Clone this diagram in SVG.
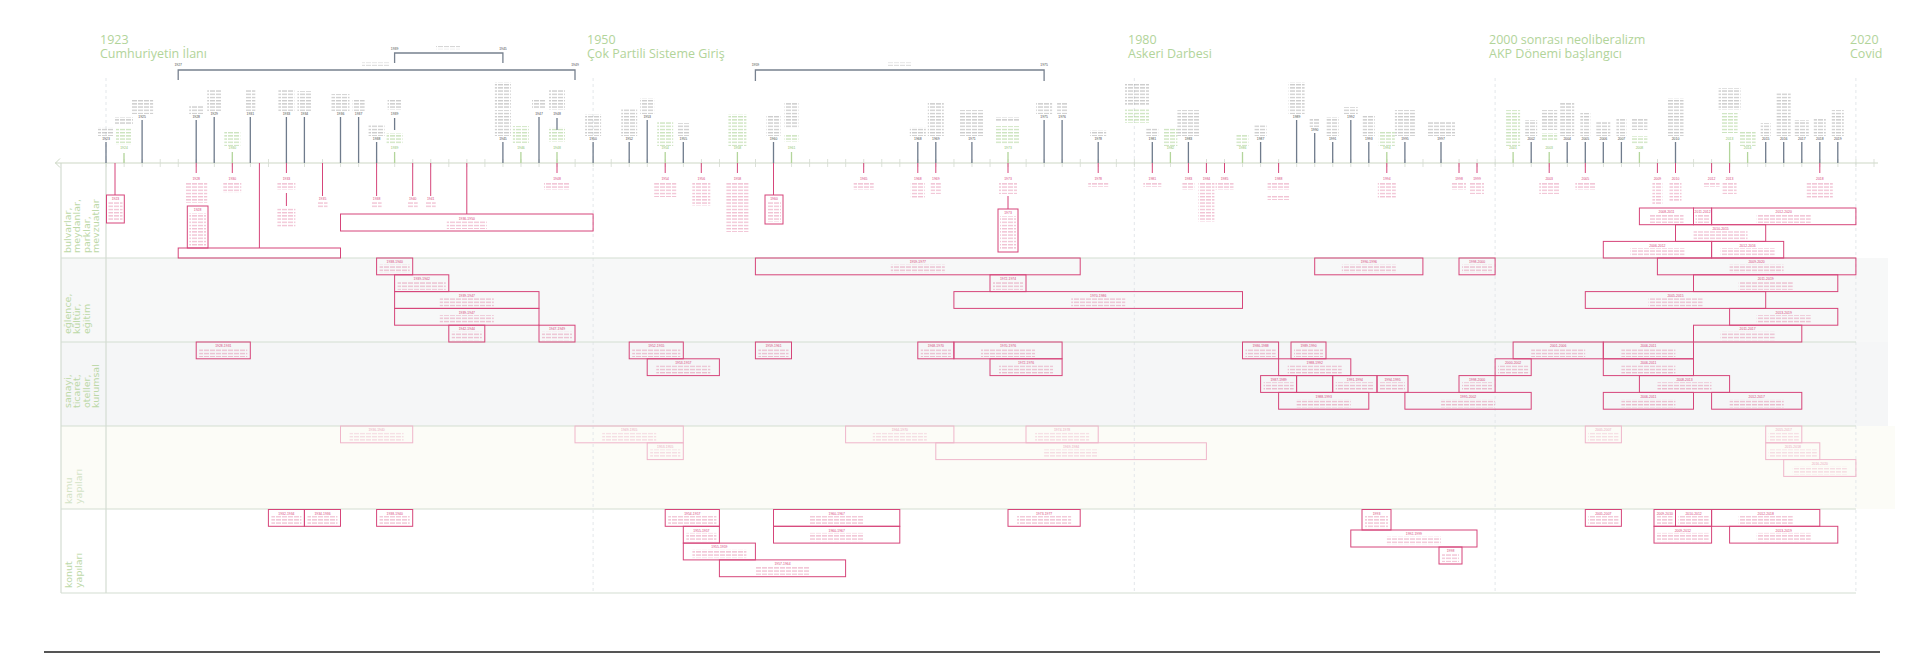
<svg xmlns="http://www.w3.org/2000/svg" width="1920" height="654" viewBox="0 0 1920 654">
<style>
.era{font-family:"Open Sans","DejaVu Sans",sans-serif;font-size:12.5px;fill:#b2d49a}
.rl{font-family:"DejaVu Sans",sans-serif;font-size:9.5px;fill:#bcd8a7}
.rl4{font-family:"DejaVu Sans",sans-serif;font-size:9.5px;fill:#d3e3c6}
.td,.tg,.tp,.tf{font-family:"Liberation Sans",Arial,sans-serif;font-size:3.4px;text-anchor:middle}
.td{fill:#4a4a4a}.tg{fill:#8cbf6c}.tp{fill:#d6457a}.tf{fill:#eaa6be}
.gd{fill:url(#pd)}.gg{fill:url(#pg)}.gp{fill:url(#pp)}.gf{fill:url(#pf)}
.bx{fill:none;stroke:#d6457a;stroke-width:1}
.bxf{fill:none;stroke:#efb6ca;stroke-width:1}
.ld{stroke:#6f7b8c;stroke-width:1.3;fill:none}
.lg{stroke:#b3d59b;stroke-width:1.3;fill:none}
.lp{stroke:#d6457a;stroke-width:1;fill:none}
.br{stroke:#77818f;stroke-width:1.3;fill:none}
.sep{stroke:#d4ddd2;stroke-width:1.2;fill:none}
.era-l{stroke:#e3e7ea;stroke-width:1;stroke-dasharray:3 3;fill:none}
</style>
<defs>
<pattern id="pd" width="6" height="3.2" patternUnits="userSpaceOnUse"><rect y="1" width="5" height="1" fill="#4a4a4a" fill-opacity=".38"/></pattern>
<pattern id="pg" width="6" height="3.2" patternUnits="userSpaceOnUse"><rect y="1" width="5" height="1" fill="#8cbf6c" fill-opacity=".6"/></pattern>
<pattern id="pp" width="6" height="3.2" patternUnits="userSpaceOnUse"><rect y="1" width="5" height="1" fill="#d6457a" fill-opacity=".45"/></pattern>
<pattern id="pf" width="6" height="3.2" patternUnits="userSpaceOnUse"><rect y="1" width="5" height="1" fill="#eaa6be" fill-opacity=".5"/></pattern>
<pattern id="tk" x="105.6" y="0" width="18.04" height="10" patternUnits="userSpaceOnUse"><rect width="0.8" height="10" fill="#d3dad0"/></pattern>
</defs>
<rect width="1920" height="654" fill="#ffffff"/>

<g id="bands">
<rect x="61" y="258" width="1827" height="84" fill="#f7f8f8"/>
<rect x="61" y="342" width="1827" height="84" fill="#f5f6f7"/>
<rect x="61" y="426" width="1834" height="83" fill="#fcfcf7"/>
<path class="era-l" d="M106 78V163M593.1 78V593M1134.3 78V593M1495.1 78V593M1855.9 78V593"/>
<path class="sep" d="M61 258H1856M61 342H1856M61 426H1856M61 509H1856M61 593H1856M61 163V593M106 163V593"/>
<path d="M55 163H1878" stroke="#cdd8c6" stroke-width="1.2"/>
<path d="M60 158.5L55.5 163L60 167.5" stroke="#cdd8c6" stroke-width="1" fill="none"/>
<rect x="105.6" y="159" width="1770" height="8" fill="url(#tk)"/>
<path d="M44 652H1880" stroke="#555555" stroke-width="2"/>
</g>

<g id="eras" class="era">
<text x="100" y="44">1923</text><text x="100" y="58">Cumhuriyetin İlanı</text>
<text x="587" y="44">1950</text><text x="587" y="58">Çok Partili Sisteme Giriş</text>
<text x="1128" y="44">1980</text><text x="1128" y="58">Askeri Darbesi</text>
<text x="1489" y="44">2000 sonrası neoliberalizm</text><text x="1489" y="58">AKP Dönemi başlangıcı</text>
<text x="1850" y="44">2020</text><text x="1850" y="58">Covid</text>
</g>

<g id="row-labels">
<g id="lbl-bulvarlar" class="rl"><text transform="translate(70.5 253) rotate(-90)">bulvarlar,</text><text transform="translate(80 253) rotate(-90)">meydanlar,</text><text transform="translate(89.5 253) rotate(-90)">parklar,</text><text transform="translate(99 253) rotate(-90)">mevzuatlar</text></g>
<g id="lbl-eglence" class="rl"><text transform="translate(70.5 334) rotate(-90)">eğlence,</text><text transform="translate(80 334) rotate(-90)">kültür,</text><text transform="translate(89.5 334) rotate(-90)">eğitim</text></g>
<g id="lbl-sanayi" class="rl"><text transform="translate(70.5 408) rotate(-90)">sanayi,</text><text transform="translate(80 408) rotate(-90)">ticaret,</text><text transform="translate(89.5 408) rotate(-90)">oteller,</text><text transform="translate(99 408) rotate(-90)">kurumsal</text></g>
<g id="lbl-kamu" class="rl4"><text transform="translate(72 504) rotate(-90)">kamu</text><text transform="translate(81.5 504) rotate(-90)">yapıları</text></g>
<g id="lbl-konut" class="rl"><text transform="translate(72 588) rotate(-90)">konut</text><text transform="translate(81.5 588) rotate(-90)">yapıları</text></g>
</g>

<g id="brackets">
<g id="br1"><path class="br" d="M178.2 80V70H575V80"/><text class="td" x="178.2" y="66">1927</text><text class="td" x="575" y="66">1949</text><rect class="gd" x="362" y="62.5" width="28" height="3.2"/></g>
<g id="br2"><path class="br" d="M394.6 63V53H502.9V63"/><text class="td" x="394.6" y="49.5">1939</text><text class="td" x="502.9" y="49.5">1945</text><rect class="gd" x="436" y="46" width="24" height="3.2"/></g>
<g id="br3"><path class="br" d="M755.4 81V70H1044.1V81"/><text class="td" x="755.4" y="66">1959</text><text class="td" x="1044.1" y="66">1975</text><rect class="gd" x="888" y="62.5" width="24" height="3.2"/></g>
</g>

<g id="connectors">
<path class="ld" d="M106 163V142M142.1 163V120M196.2 163V120M214.2 163V117M250.3 163V117M286.4 163V117M304.4 163V117M340.5 163V117M358.6 163V117M376.6 163V142M394.6 130V118M502.9 163V142M539 163V117M557 130V118M593.1 163V142M629.2 163V142M647.2 163V120M683.3 163V142M773.5 163V142M917.8 163V142M935.8 163V142M971.9 163V142M1044.1 163V120M1062.1 163V120M1098.2 163V142M1152.3 163V142M1188.4 163V142M1260.6 163V142M1296.6 163V120M1314.7 163V133M1332.7 163V142M1350.8 163V120M1368.8 163V142M1404.9 163V142M1441 163V142M1531.2 163V142M1567.2 163V142M1585.3 163V142M1603.3 163V142M1621.4 163V142M1675.5 163V142M1765.7 163V142M1783.7 163V142M1801.8 163V142M1819.8 163V142M1837.8 163V142"/>
<path class="lg" d="M124 163V153M232.3 163V152M394.6 163V152M520.9 163V152M557 163V152M665.2 163V152M737.4 163V152M791.5 163V152M1008 163V152M1170.4 163V152M1242.5 163V152M1386.8 163V152M1513.1 163V152M1549.2 163V152M1639.4 163V152M1729.6 163V142M1747.6 163V152"/>
<path class="lp" d="M115 163V195M196.2 163V173M232.3 163V173M259.4 163V248M286.4 163V173M286.4 193V206M322.5 163V196M376.6 163V196M412.7 163V196M430.7 163V196M466.8 163V214M557 163V173M665.2 163V173M701.3 163V173M737.4 163V173M773.5 163V195M863.7 163V173M917.8 163V173M935.8 163V173M1008 163V173M1008 196V209M1098.2 163V173M1152.3 163V173M1188.4 163V173M1206.4 163V173M1224.5 163V173M1278.6 163V173M1386.8 163V173M1459 163V173M1477 163V173M1549.2 163V173M1585.3 163V173M1657.4 163V173M1675.5 163V173M1711.6 163V173M1729.6 163V173M1819.8 163V173"/>
</g>

<g id="events-above">
<g id="a1923"><text class="td" x="106" y="139.5">1923</text><rect class="gd" x="98" y="127" width="16" height="9"/></g>
<g id="a1924"><rect class="gd" x="115" y="117" width="18" height="8"/><rect class="gg" x="116" y="128" width="16" height="17"/><text class="tg" x="124" y="149">1924</text></g>
<g id="a1925"><text class="td" x="142.1" y="117.5">1925</text><rect class="gd" x="131.1" y="100" width="22" height="14"/></g>
<g id="a1928"><text class="td" x="196.2" y="117.5">1928</text><rect class="gd" x="189.2" y="105" width="14" height="9"/></g>
<g id="a1929"><text class="td" x="214.2" y="114.5">1929</text><rect class="gd" x="207.2" y="90" width="14" height="21"/></g>
<g id="a1930"><text class="tg" x="232.3" y="149">1930</text><rect class="gg" x="224.3" y="132" width="16" height="14"/></g>
<g id="a1931"><text class="td" x="250.3" y="114.5">1931</text><rect class="gd" x="245.3" y="90" width="10" height="21"/></g>
<g id="a1933"><text class="td" x="286.4" y="114.5">1933</text><rect class="gd" x="278.4" y="90" width="16" height="21"/></g>
<g id="a1934"><text class="td" x="304.4" y="114.5">1934</text><rect class="gd" x="297.4" y="91" width="14" height="20"/></g>
<g id="a1936"><text class="td" x="340.5" y="114.5">1936</text><rect class="gd" x="331.5" y="94" width="18" height="17"/></g>
<g id="a1937"><text class="td" x="358.6" y="114.5">1937</text><rect class="gd" x="352.6" y="99" width="12" height="12"/></g>
<g id="a1938"><text class="td" x="376.6" y="139.5">1938</text><rect class="gd" x="368.6" y="125" width="16" height="11"/></g>
<g id="a1939"><rect class="gd" x="387.6" y="99" width="14" height="11"/><text class="td" x="394.6" y="114.5">1939</text><rect class="gg" x="386.6" y="133" width="16" height="11"/><text class="tg" x="394.6" y="149">1939</text></g>
<g id="a1945"><text class="td" x="502.9" y="139.5">1945</text><rect class="gd" x="494.9" y="82" width="16" height="26"/><rect class="gd" x="494.9" y="110" width="16" height="26"/></g>
<g id="a1946"><text class="tg" x="520.9" y="149">1946</text><rect class="gg" x="512.9" y="126" width="16" height="17"/></g>
<g id="a1947"><text class="td" x="539" y="114.5">1947</text><rect class="gd" x="532" y="100" width="14" height="9"/></g>
<g id="a1948"><rect class="gd" x="549" y="90" width="16" height="20"/><text class="td" x="557" y="114.5">1948</text><rect class="gg" x="549" y="127" width="16" height="15"/><text class="tg" x="557" y="149">1948</text></g>
<g id="a1950"><text class="td" x="593.1" y="139.5">1950</text><rect class="gd" x="585.1" y="114" width="16" height="22"/></g>
<g id="a1952"><text class="td" x="629.2" y="139.5">1952</text><rect class="gd" x="621.2" y="108" width="16" height="28"/></g>
<g id="a1953"><text class="td" x="647.2" y="117.5">1953</text><rect class="gd" x="640.2" y="98" width="14" height="16"/></g>
<g id="a1954"><text class="tg" x="665.2" y="149">1954</text><rect class="gg" x="657.2" y="122" width="16" height="24"/></g>
<g id="a1955"><text class="td" x="683.3" y="139.5">1955</text><rect class="gd" x="677.3" y="123" width="12" height="13"/></g>
<g id="a1958"><text class="tg" x="737.4" y="149">1958</text><rect class="gg" x="728.4" y="114" width="18" height="32"/></g>
<g id="a1960"><text class="td" x="773.5" y="139.5">1960</text><rect class="gd" x="766.5" y="115" width="14" height="21"/></g>
<g id="a1961"><rect class="gd" x="784.5" y="102" width="14" height="26"/><rect class="gg" x="784.5" y="134" width="14" height="8"/><text class="tg" x="791.5" y="149">1961</text></g>
<g id="a1968"><text class="td" x="917.8" y="139.5">1968</text><rect class="gd" x="909.8" y="127" width="16" height="9"/></g>
<g id="a1969"><text class="td" x="935.8" y="139.5">1969</text><rect class="gd" x="927.8" y="103" width="16" height="33"/></g>
<g id="a1971"><text class="td" x="971.9" y="139.5">1971</text><rect class="gd" x="959.9" y="110" width="24" height="26"/></g>
<g id="a1973"><rect class="gd" x="996" y="117" width="24" height="5"/><rect class="gg" x="996" y="126" width="24" height="18"/><text class="tg" x="1008" y="149">1973</text></g>
<g id="a1975"><text class="td" x="1044.1" y="117.5">1975</text><rect class="gd" x="1036.1" y="102" width="16" height="12"/></g>
<g id="a1976"><text class="td" x="1062.1" y="117.5">1976</text><rect class="gd" x="1057.1" y="102" width="10" height="12"/></g>
<g id="a1978"><text class="td" x="1098.2" y="139.5">1978</text><rect class="gd" x="1090.2" y="130" width="16" height="6"/></g>
<g id="a1980"><rect class="gd" x="1125" y="83" width="24" height="23"/><rect class="gg" x="1125" y="108" width="24" height="15"/></g>
<g id="a1981"><text class="td" x="1152.3" y="139.5">1981</text><rect class="gd" x="1146.3" y="128" width="12" height="8"/></g>
<g id="a1982"><text class="tg" x="1170.4" y="149">1982</text><rect class="gg" x="1163.4" y="128" width="14" height="18"/></g>
<g id="a1983"><text class="td" x="1188.4" y="139.5">1983</text><rect class="gd" x="1177.4" y="110" width="22" height="26"/></g>
<g id="a1986"><text class="tg" x="1242.5" y="149">1986</text><rect class="gg" x="1236.5" y="135" width="12" height="11"/></g>
<g id="a1987"><text class="td" x="1260.6" y="139.5">1987</text><rect class="gd" x="1254.6" y="125" width="12" height="11"/></g>
<g id="a1989"><text class="td" x="1296.6" y="117.5">1989</text><rect class="gd" x="1288.6" y="82" width="16" height="32"/></g>
<g id="a1990"><text class="td" x="1314.7" y="130.5">1990</text><rect class="gd" x="1309.7" y="118" width="10" height="9"/></g>
<g id="a1991"><text class="td" x="1332.7" y="139.5">1991</text><rect class="gd" x="1326.7" y="117" width="12" height="19"/></g>
<g id="a1992"><text class="td" x="1350.8" y="117.5">1992</text><rect class="gd" x="1343.8" y="107" width="14" height="7"/></g>
<g id="a1993"><text class="td" x="1368.8" y="139.5">1993</text><rect class="gd" x="1362.8" y="115" width="12" height="21"/></g>
<g id="a1994"><text class="tg" x="1386.8" y="149">1994</text><rect class="gg" x="1378.8" y="132" width="16" height="14"/></g>
<g id="a1995"><text class="td" x="1404.9" y="139.5">1995</text><rect class="gd" x="1394.9" y="110" width="20" height="26"/></g>
<g id="a1997"><text class="td" x="1441" y="139.5">1997</text><rect class="gd" x="1427" y="122" width="28" height="14"/></g>
<g id="a2001"><text class="tg" x="1513.1" y="149">2001</text><rect class="gg" x="1506.1" y="110" width="14" height="36"/></g>
<g id="a2002"><text class="td" x="1531.2" y="139.5">2002</text><rect class="gd" x="1525.2" y="120" width="12" height="16"/></g>
<g id="a2003"><rect class="gd" x="1541.2" y="110" width="16" height="20"/><rect class="gg" x="1541.2" y="133" width="16" height="8"/><text class="tg" x="1549.2" y="149">2003</text></g>
<g id="a2004"><text class="td" x="1567.2" y="139.5">2004</text><rect class="gd" x="1560.2" y="103" width="14" height="33"/></g>
<g id="a2005"><text class="td" x="1585.3" y="139.5">2005</text><rect class="gd" x="1580.3" y="113" width="10" height="23"/></g>
<g id="a2006"><text class="td" x="1603.3" y="139.5">2006</text><rect class="gd" x="1596.3" y="122" width="14" height="14"/></g>
<g id="a2007"><text class="td" x="1621.4" y="139.5">2007</text><rect class="gd" x="1616.4" y="118" width="10" height="18"/></g>
<g id="a2008"><rect class="gd" x="1631.4" y="118" width="16" height="12"/><rect class="gg" x="1631.4" y="136" width="16" height="8"/><text class="tg" x="1639.4" y="149">2008</text></g>
<g id="a2010"><text class="td" x="1675.5" y="139.5">2010</text><rect class="gd" x="1667.5" y="98" width="16" height="38"/></g>
<g id="a2013"><rect class="gd" x="1718.6" y="88" width="22" height="22"/><rect class="gg" x="1721.6" y="113" width="16" height="20"/><text class="tg" x="1729.6" y="139.5">2013</text></g>
<g id="a2014"><text class="tg" x="1747.6" y="149">2014</text><rect class="gg" x="1739.6" y="132" width="16" height="14"/></g>
<g id="a2015"><text class="td" x="1765.7" y="139.5">2015</text><rect class="gd" x="1760.7" y="123" width="10" height="13"/></g>
<g id="a2016"><text class="td" x="1783.7" y="139.5">2016</text><rect class="gd" x="1776.7" y="92" width="14" height="44"/></g>
<g id="a2017"><text class="td" x="1801.8" y="139.5">2017</text><rect class="gd" x="1794.8" y="120" width="14" height="16"/></g>
<g id="a2018"><text class="td" x="1819.8" y="139.5">2018</text><rect class="gd" x="1813.8" y="118" width="12" height="18"/></g>
<g id="a2019"><text class="td" x="1837.8" y="139.5">2019</text><rect class="gd" x="1831.8" y="110" width="12" height="26"/></g>
</g>

<g id="events-below">
<g id="b1928"><text class="tp" x="196.2" y="180">1928</text><rect class="gp" x="185.2" y="183" width="22" height="20"/></g>
<g id="b1930"><text class="tp" x="232.3" y="180">1930</text><rect class="gp" x="223.3" y="183" width="18" height="10"/></g>
<g id="b1933"><text class="tp" x="286.4" y="180">1933</text><rect class="gp" x="277.4" y="183" width="18" height="7"/><rect class="gp" x="277.4" y="208" width="18" height="20"/></g>
<g id="b1935"><text class="tp" x="322.5" y="199.5">1935</text><rect class="gp" x="317.5" y="202" width="10" height="6"/></g>
<g id="b1938"><text class="tp" x="376.6" y="199.5">1938</text><rect class="gp" x="371.6" y="202" width="10" height="6"/></g>
<g id="b1940"><text class="tp" x="412.7" y="199.5">1940</text><rect class="gp" x="407.7" y="202" width="10" height="6"/></g>
<g id="b1941"><text class="tp" x="430.7" y="199.5">1941</text><rect class="gp" x="425.7" y="202" width="10" height="6"/></g>
<g id="b1948"><text class="tp" x="557" y="180">1948</text><rect class="gp" x="544" y="183" width="26" height="7"/></g>
<g id="b1954"><text class="tp" x="665.2" y="180">1954</text><rect class="gp" x="654.2" y="183" width="22" height="14"/></g>
<g id="b1956"><text class="tp" x="701.3" y="180">1956</text><rect class="gp" x="692.3" y="183" width="18" height="23"/></g>
<g id="b1958"><text class="tp" x="737.4" y="180">1958</text><rect class="gp" x="726.4" y="183" width="22" height="49"/></g>
<g id="b1965"><text class="tp" x="863.7" y="180">1965</text><rect class="gp" x="853.7" y="183" width="20" height="7"/></g>
<g id="b1968"><text class="tp" x="917.8" y="180">1968</text><rect class="gp" x="910.8" y="183" width="14" height="15"/></g>
<g id="b1969"><text class="tp" x="935.8" y="180">1969</text><rect class="gp" x="930.8" y="183" width="10" height="11"/></g>
<g id="b1973"><text class="tp" x="1008" y="180">1973</text><rect class="gp" x="999" y="183" width="18" height="11"/></g>
<g id="b1978"><text class="tp" x="1098.2" y="180">1978</text><rect class="gp" x="1088.2" y="183" width="20" height="4"/></g>
<g id="b1981"><text class="tp" x="1152.3" y="180">1981</text><rect class="gp" x="1143.3" y="183" width="18" height="4"/></g>
<g id="b1983"><text class="tp" x="1188.4" y="180">1983</text><rect class="gp" x="1182.4" y="183" width="12" height="7"/></g>
<g id="b1984"><text class="tp" x="1206.4" y="180">1984</text><rect class="gp" x="1198.4" y="183" width="16" height="39"/></g>
<g id="b1985"><text class="tp" x="1224.5" y="180">1985</text><rect class="gp" x="1215.5" y="183" width="18" height="7"/></g>
<g id="b1988"><text class="tp" x="1278.6" y="180">1988</text><rect class="gp" x="1267.6" y="183" width="22" height="7"/><rect class="gp" x="1267.6" y="195" width="22" height="5"/></g>
<g id="b1994"><text class="tp" x="1386.8" y="180">1994</text><rect class="gp" x="1377.8" y="183" width="18" height="15"/></g>
<g id="b1998"><text class="tp" x="1459" y="180">1998</text><rect class="gp" x="1452" y="183" width="14" height="7"/></g>
<g id="b1999"><text class="tp" x="1477" y="180">1999</text><rect class="gp" x="1470" y="183" width="14" height="11"/></g>
<g id="b2003"><text class="tp" x="1549.2" y="180">2003</text><rect class="gp" x="1539.2" y="183" width="20" height="11"/></g>
<g id="b2005"><text class="tp" x="1585.3" y="180">2005</text><rect class="gp" x="1575.3" y="183" width="20" height="7"/></g>
<g id="b2009"><text class="tp" x="1657.4" y="180">2009</text><rect class="gp" x="1652.4" y="183" width="10" height="22"/></g>
<g id="b2010"><text class="tp" x="1675.5" y="180">2010</text><rect class="gp" x="1669.5" y="183" width="12" height="19"/></g>
<g id="b2012"><text class="tp" x="1711.6" y="180">2012</text><rect class="gp" x="1703.6" y="183" width="16" height="4"/></g>
<g id="b2013"><text class="tp" x="1729.6" y="180">2013</text><rect class="gp" x="1722.6" y="183" width="14" height="11"/></g>
<g id="b2018"><text class="tp" x="1819.8" y="180">2018</text><rect class="gp" x="1806.8" y="183" width="26" height="15"/></g>
</g>

<g id="row1-boxes">
<g id="r1-1"><rect class="bx" x="106.5" y="195" width="17.8" height="28"/><text class="tp" x="115.4" y="200">1923</text><rect class="gp" x="108.5" y="202" width="14" height="19"/></g>
<g id="r1-2"><rect class="bx" x="187.3" y="206" width="20.7" height="42"/><text class="tp" x="197.6" y="211">1928</text><rect class="gp" x="189.3" y="213" width="16.7" height="33"/></g>
<g id="r1-3"><rect class="bx" x="178.2" y="248" width="162.3" height="10"/></g>
<g id="r1-4"><rect class="bx" x="340.5" y="214" width="252.6" height="17"/><text class="tp" x="466.8" y="219.5">1936-1950</text><rect class="gp" x="446.8" y="221" width="40" height="8"/></g>
<g id="r1-5"><rect class="bx" x="765" y="195" width="18" height="29"/><text class="tp" x="774" y="200">1960</text><rect class="gp" x="767" y="202" width="14" height="20"/></g>
<g id="r1-6"><rect class="bx" x="998" y="209" width="20" height="43"/><text class="tp" x="1008" y="214">1973</text><rect class="gp" x="1000" y="216" width="16" height="34"/></g>
<g id="r1-7"><rect class="bx" x="1639.4" y="208" width="54.1" height="16.7"/><text class="tp" x="1666.5" y="213.2">2008-2011</text><rect class="gp" x="1649.5" y="214.6" width="34" height="8.4"/></g>
<g id="r1-8"><rect class="bx" x="1693.5" y="208" width="18.1" height="16.7"/><text class="tp" x="1702.6" y="213.2">2011-2012</text><rect class="gp" x="1695.5" y="214.6" width="14" height="8.4"/></g>
<g id="r1-9"><rect class="bx" x="1711.6" y="208" width="144.3" height="16.7"/><text class="tp" x="1783.7" y="213.2">2012-2020</text><rect class="gp" x="1756.7" y="214.6" width="54" height="8.4"/></g>
<g id="r1-10"><rect class="bx" x="1675.5" y="224.7" width="90.2" height="16.7"/><text class="tp" x="1720.6" y="229.9">2010-2015</text><rect class="gp" x="1693.6" y="231.3" width="54" height="8.4"/></g>
<g id="r1-11"><rect class="bx" x="1603.3" y="241.4" width="108.3" height="16.6"/><text class="tp" x="1657.4" y="246.6">2006-2012</text><rect class="gp" x="1630.4" y="248" width="54" height="8.4"/></g>
<g id="r1-12"><rect class="bx" x="1711.6" y="241.4" width="72.1" height="16.6"/><text class="tp" x="1747.6" y="246.6">2012-2016</text><rect class="gp" x="1720.6" y="248" width="54" height="8.4"/></g>
</g>

<g id="row2-boxes">
<g id="r2-1"><rect class="bx" x="376.6" y="258" width="36.1" height="16.8"/><text class="tp" x="394.7" y="263.2">1938-1940</text><rect class="gp" x="379.6" y="264.6" width="30.1" height="8.4"/></g>
<g id="r2-2"><rect class="bx" x="394.6" y="274.8" width="54.2" height="16.8"/><text class="tp" x="421.7" y="280">1939-1942</text><rect class="gp" x="397.6" y="281.4" width="48.2" height="8.4"/></g>
<g id="r2-3"><rect class="bx" x="394.6" y="291.6" width="144.4" height="16.8"/><text class="tp" x="466.8" y="296.8">1939-1947</text><rect class="gp" x="439.8" y="298.2" width="54" height="8.4"/></g>
<g id="r2-4"><rect class="bx" x="394.6" y="308.4" width="144.4" height="16.8"/><text class="tp" x="466.8" y="313.6">1939-1947</text><rect class="gp" x="439.8" y="315" width="54" height="8.4"/></g>
<g id="r2-5"><rect class="bx" x="448.8" y="325.2" width="36" height="16.8"/><text class="tp" x="466.8" y="330.4">1942-1944</text><rect class="gp" x="451.8" y="331.8" width="30" height="8.4"/></g>
<g id="r2-6"><rect class="bx" x="539" y="325.2" width="36" height="16.8"/><text class="tp" x="557" y="330.4">1947-1949</text><rect class="gp" x="542" y="331.8" width="30" height="8.4"/></g>
<g id="r2-7"><rect class="bx" x="755.4" y="258" width="324.8" height="16.8"/><text class="tp" x="917.8" y="263.2">1959-1977</text><rect class="gp" x="890.8" y="264.6" width="54" height="8.4"/></g>
<g id="r2-8"><rect class="bx" x="990" y="274.8" width="36" height="16.8"/><text class="tp" x="1008" y="280">1972-1974</text><rect class="gp" x="993" y="281.4" width="30" height="8.4"/></g>
<g id="r2-9"><rect class="bx" x="953.9" y="291.6" width="288.6" height="16.8"/><text class="tp" x="1098.2" y="296.8">1970-1986</text><rect class="gp" x="1071.2" y="298.2" width="54" height="8.4"/></g>
<g id="r2-10"><rect class="bx" x="1314.7" y="258" width="108.2" height="16.8"/><text class="tp" x="1368.8" y="263.2">1990-1996</text><rect class="gp" x="1341.8" y="264.6" width="54" height="8.4"/></g>
<g id="r2-11"><rect class="bx" x="1459" y="258" width="36.1" height="16.8"/><text class="tp" x="1477" y="263.2">1998-2000</text><rect class="gp" x="1462" y="264.6" width="30" height="8.4"/></g>
<g id="r2-12"><rect class="bx" x="1657.4" y="258" width="198.5" height="16.8"/><text class="tp" x="1756.6" y="263.2">2009-2020</text><rect class="gp" x="1729.6" y="264.6" width="54" height="8.4"/></g>
<g id="r2-13"><rect class="bx" x="1693.5" y="274.8" width="144.3" height="16.8"/><text class="tp" x="1765.7" y="280">2011-2019</text><rect class="gp" x="1738.7" y="281.4" width="54" height="8.4"/></g>
<g id="r2-14"><rect class="bx" x="1585.3" y="291.6" width="180.4" height="16.8"/><text class="tp" x="1675.5" y="296.8">2005-2015</text><rect class="gp" x="1648.5" y="298.2" width="54" height="8.4"/></g>
<g id="r2-15"><rect class="bx" x="1729.6" y="308.4" width="108.2" height="16.8"/><text class="tp" x="1783.7" y="313.6">2013-2019</text><rect class="gp" x="1756.7" y="315" width="54" height="8.4"/></g>
<g id="r2-16"><rect class="bx" x="1693.5" y="325.2" width="108.3" height="16.8"/><text class="tp" x="1747.6" y="330.4">2011-2017</text><rect class="gp" x="1720.6" y="331.8" width="54" height="8.4"/></g>
</g>

<g id="row3-boxes">
<g id="r3-1"><rect class="bx" x="196.2" y="342" width="54.1" height="16.8"/><text class="tp" x="223.3" y="347.2">1928-1931</text><rect class="gp" x="199.2" y="348.6" width="48.1" height="8.4"/></g>
<g id="r3-2"><rect class="bx" x="629.2" y="342" width="54.1" height="16.8"/><text class="tp" x="656.3" y="347.2">1952-1955</text><rect class="gp" x="632.2" y="348.6" width="48.1" height="8.4"/></g>
<g id="r3-3"><rect class="bx" x="647.2" y="358.8" width="72.2" height="16.8"/><text class="tp" x="683.3" y="364">1953-1957</text><rect class="gp" x="656.3" y="365.4" width="54" height="8.4"/></g>
<g id="r3-4"><rect class="bx" x="755.4" y="342" width="36.1" height="16.8"/><text class="tp" x="773.5" y="347.2">1959-1961</text><rect class="gp" x="758.4" y="348.6" width="30.1" height="8.4"/></g>
<g id="r3-5"><rect class="bx" x="917.8" y="342" width="36.1" height="16.8"/><text class="tp" x="935.8" y="347.2">1968-1970</text><rect class="gp" x="920.8" y="348.6" width="30.1" height="8.4"/></g>
<g id="r3-6"><rect class="bx" x="953.9" y="342" width="108.2" height="16.8"/><text class="tp" x="1008" y="347.2">1970-1976</text><rect class="gp" x="981" y="348.6" width="54" height="8.4"/></g>
<g id="r3-7"><rect class="bx" x="990" y="358.8" width="72.1" height="16.8"/><text class="tp" x="1026" y="364">1972-1976</text><rect class="gp" x="999" y="365.4" width="54" height="8.4"/></g>
<g id="r3-8"><rect class="bx" x="1242.5" y="342" width="36.1" height="16.8"/><text class="tp" x="1260.6" y="347.2">1986-1988</text><rect class="gp" x="1245.5" y="348.6" width="30.1" height="8.4"/></g>
<g id="r3-9"><rect class="bx" x="1291" y="342" width="35" height="16.8"/><text class="tp" x="1308.5" y="347.2">1989-1990</text><rect class="gp" x="1294" y="348.6" width="29" height="8.4"/></g>
<g id="r3-10"><rect class="bx" x="1278.6" y="358.8" width="72.2" height="16.8"/><text class="tp" x="1314.7" y="364">1988-1992</text><rect class="gp" x="1287.7" y="365.4" width="54" height="8.4"/></g>
<g id="r3-11"><rect class="bx" x="1260.6" y="375.6" width="36" height="16.8"/><text class="tp" x="1278.6" y="380.8">1987-1989</text><rect class="gp" x="1263.6" y="382.2" width="30" height="8.4"/></g>
<g id="r3-12"><rect class="bx" x="1296.6" y="375.6" width="36.1" height="16.8"/></g>
<g id="r3-13"><rect class="bx" x="1332.7" y="375.6" width="44.3" height="16.8"/><text class="tp" x="1354.9" y="380.8">1991-1994</text><rect class="gp" x="1335.7" y="382.2" width="38.3" height="8.4"/></g>
<g id="r3-14"><rect class="bx" x="1377" y="375.6" width="31" height="16.8"/><text class="tp" x="1392.5" y="380.8">1994-1995</text><rect class="gp" x="1380" y="382.2" width="25" height="8.4"/></g>
<g id="r3-15"><rect class="bx" x="1278.6" y="392.4" width="90.2" height="16.8"/><text class="tp" x="1323.7" y="397.6">1988-1993</text><rect class="gp" x="1296.7" y="399" width="54" height="8.4"/></g>
<g id="r3-16"><rect class="bx" x="1404.9" y="392.4" width="126.3" height="16.8"/><text class="tp" x="1468.1" y="397.6">1995-2002</text><rect class="gp" x="1441.1" y="399" width="54" height="8.4"/></g>
<g id="r3-17"><rect class="bx" x="1459" y="375.6" width="36.1" height="16.8"/><text class="tp" x="1477" y="380.8">1998-2000</text><rect class="gp" x="1462" y="382.2" width="30" height="8.4"/></g>
<g id="r3-18"><rect class="bx" x="1495.1" y="358.8" width="36.1" height="16.8"/><text class="tp" x="1513.1" y="364">2000-2002</text><rect class="gp" x="1498.1" y="365.4" width="30" height="8.4"/></g>
<g id="r3-19"><rect class="bx" x="1513.1" y="342" width="90.2" height="16.8"/><text class="tp" x="1558.2" y="347.2">2001-2006</text><rect class="gp" x="1531.2" y="348.6" width="54" height="8.4"/></g>
<g id="r3-20"><rect class="bx" x="1603.3" y="342" width="90.2" height="16.8"/><text class="tp" x="1648.4" y="347.2">2006-2011</text><rect class="gp" x="1621.4" y="348.6" width="54" height="8.4"/></g>
<g id="r3-21"><rect class="bx" x="1603.3" y="358.8" width="90.2" height="16.8"/><text class="tp" x="1648.4" y="364">2006-2011</text><rect class="gp" x="1621.4" y="365.4" width="54" height="8.4"/></g>
<g id="r3-22"><rect class="bx" x="1639.4" y="375.6" width="90.2" height="16.8"/><text class="tp" x="1684.5" y="380.8">2008-2013</text><rect class="gp" x="1657.5" y="382.2" width="54" height="8.4"/></g>
<g id="r3-23"><rect class="bx" x="1603.3" y="392.4" width="90.2" height="16.8"/><text class="tp" x="1648.4" y="397.6">2006-2011</text><rect class="gp" x="1621.4" y="399" width="54" height="8.4"/></g>
<g id="r3-24"><rect class="bx" x="1711.6" y="392.4" width="90.2" height="16.8"/><text class="tp" x="1756.7" y="397.6">2012-2017</text><rect class="gp" x="1729.7" y="399" width="54" height="8.4"/></g>
</g>

<g id="row4-boxes">
<g id="r4-1"><rect class="bxf" x="340.5" y="426" width="72.2" height="16.8"/><text class="tf" x="376.6" y="431.2">1936-1940</text><rect class="gf" x="349.6" y="432.6" width="54" height="8.4"/></g>
<g id="r4-2"><rect class="bxf" x="575" y="426" width="108.3" height="16.8"/><text class="tf" x="629.2" y="431.2">1949-1955</text><rect class="gf" x="602.2" y="432.6" width="54" height="8.4"/></g>
<g id="r4-3"><rect class="bxf" x="647.2" y="442.8" width="36.1" height="16.8"/><text class="tf" x="665.2" y="448">1953-1955</text><rect class="gf" x="650.2" y="449.4" width="30.1" height="8.4"/></g>
<g id="r4-4"><rect class="bxf" x="845.6" y="426" width="108.3" height="16.8"/><text class="tf" x="899.8" y="431.2">1964-1970</text><rect class="gf" x="872.8" y="432.6" width="54" height="8.4"/></g>
<g id="r4-5"><rect class="bxf" x="935.8" y="442.8" width="270.6" height="16.8"/><text class="tf" x="1071.1" y="448">1969-1984</text><rect class="gf" x="1044.1" y="449.4" width="54" height="8.4"/></g>
<g id="r4-6"><rect class="bxf" x="1026" y="426" width="72.2" height="16.8"/><text class="tf" x="1062.1" y="431.2">1974-1978</text><rect class="gf" x="1035.1" y="432.6" width="54" height="8.4"/></g>
<g id="r4-7"><rect class="bxf" x="1585.3" y="426" width="36.1" height="16.8"/><text class="tf" x="1603.3" y="431.2">2005-2007</text><rect class="gf" x="1588.3" y="432.6" width="30.1" height="8.4"/></g>
<g id="r4-8"><rect class="bxf" x="1765.7" y="426" width="36.1" height="16.8"/><text class="tf" x="1783.7" y="431.2">2015-2017</text><rect class="gf" x="1768.7" y="432.6" width="30.1" height="8.4"/></g>
<g id="r4-9"><rect class="bxf" x="1765.7" y="442.8" width="54.1" height="16.8"/><text class="tf" x="1792.8" y="448">2015-2018</text><rect class="gf" x="1768.7" y="449.4" width="48.1" height="8.4"/></g>
<g id="r4-10"><rect class="bxf" x="1783.7" y="459.6" width="72.2" height="16.8"/><text class="tf" x="1819.8" y="464.8">2016-2020</text><rect class="gf" x="1792.8" y="466.2" width="54" height="8.4"/></g>
</g>

<g id="row5-boxes">
<g id="r5-1"><rect class="bx" x="268.4" y="509.5" width="36" height="16.8"/><text class="tp" x="286.4" y="514.7">1932-1934</text><rect class="gp" x="271.4" y="516.1" width="30" height="8.4"/></g>
<g id="r5-2"><rect class="bx" x="304.4" y="509.5" width="36.1" height="16.8"/><text class="tp" x="322.5" y="514.7">1934-1936</text><rect class="gp" x="307.5" y="516.1" width="30" height="8.4"/></g>
<g id="r5-3"><rect class="bx" x="376.6" y="509.5" width="36.1" height="16.8"/><text class="tp" x="394.7" y="514.7">1938-1940</text><rect class="gp" x="379.6" y="516.1" width="30.1" height="8.4"/></g>
<g id="r5-4"><rect class="bx" x="665.2" y="509.5" width="54.2" height="16.8"/><text class="tp" x="692.3" y="514.7">1954-1957</text><rect class="gp" x="668.2" y="516.1" width="48.2" height="8.4"/></g>
<g id="r5-5"><rect class="bx" x="683.3" y="526.3" width="36.1" height="16.8"/><text class="tp" x="701.4" y="531.5">1955-1957</text><rect class="gp" x="686.3" y="532.9" width="30.1" height="8.4"/></g>
<g id="r5-6"><rect class="bx" x="683.3" y="543.1" width="72.1" height="16.8"/><text class="tp" x="719.4" y="548.3">1955-1959</text><rect class="gp" x="692.4" y="549.7" width="54" height="8.4"/></g>
<g id="r5-7"><rect class="bx" x="719.4" y="559.9" width="126.2" height="16.8"/><text class="tp" x="782.5" y="565.1">1957-1964</text><rect class="gp" x="755.5" y="566.5" width="54" height="8.4"/></g>
<g id="r5-8"><rect class="bx" x="773.5" y="509.5" width="126.3" height="16.8"/><text class="tp" x="836.7" y="514.7">1960-1967</text><rect class="gp" x="809.7" y="516.1" width="54" height="8.4"/></g>
<g id="r5-9"><rect class="bx" x="773.5" y="526.3" width="126.3" height="16.8"/><text class="tp" x="836.7" y="531.5">1960-1967</text><rect class="gp" x="809.7" y="532.9" width="54" height="8.4"/></g>
<g id="r5-10"><rect class="bx" x="1008" y="509.5" width="72.2" height="16.8"/><text class="tp" x="1044.1" y="514.7">1973-1977</text><rect class="gp" x="1017.1" y="516.1" width="54" height="8.4"/></g>
<g id="r5-11"><rect class="bx" x="1362" y="509.5" width="29" height="20.5"/><text class="tp" x="1376.5" y="514.7">1993</text><rect class="gp" x="1365" y="516.1" width="23" height="12.6"/></g>
<g id="r5-12"><rect class="bx" x="1350.8" y="530" width="126.2" height="17"/><text class="tp" x="1413.9" y="535.2">1992-1999</text><rect class="gp" x="1386.9" y="536.6" width="54" height="8.4"/></g>
<g id="r5-13"><rect class="bx" x="1439" y="547" width="23" height="17"/><text class="tp" x="1450.5" y="552.2">1998</text><rect class="gp" x="1442" y="553.6" width="17" height="8.4"/></g>
<g id="r5-14"><rect class="bx" x="1585.3" y="509.5" width="36.1" height="16.8"/><text class="tp" x="1603.3" y="514.7">2005-2007</text><rect class="gp" x="1588.3" y="516.1" width="30.1" height="8.4"/></g>
<g id="r5-15"><rect class="bx" x="1654" y="509.5" width="21.5" height="16.8"/><text class="tp" x="1664.8" y="514.7">2009-2010</text><rect class="gp" x="1657" y="516.1" width="15.5" height="8.4"/></g>
<g id="r5-16"><rect class="bx" x="1675.5" y="509.5" width="36.1" height="16.8"/><text class="tp" x="1693.6" y="514.7">2010-2012</text><rect class="gp" x="1678.5" y="516.1" width="30.1" height="8.4"/></g>
<g id="r5-17"><rect class="bx" x="1711.6" y="509.5" width="108.2" height="16.8"/><text class="tp" x="1765.7" y="514.7">2012-2018</text><rect class="gp" x="1738.7" y="516.1" width="54" height="8.4"/></g>
<g id="r5-18"><rect class="bx" x="1654" y="526.3" width="57.6" height="16.8"/><text class="tp" x="1682.8" y="531.5">2009-2012</text><rect class="gp" x="1657" y="532.9" width="51.6" height="8.4"/></g>
<g id="r5-19"><rect class="bx" x="1729.6" y="526.3" width="108.2" height="16.8"/><text class="tp" x="1783.7" y="531.5">2013-2019</text><rect class="gp" x="1756.7" y="532.9" width="54" height="8.4"/></g>
</g>
</svg>
